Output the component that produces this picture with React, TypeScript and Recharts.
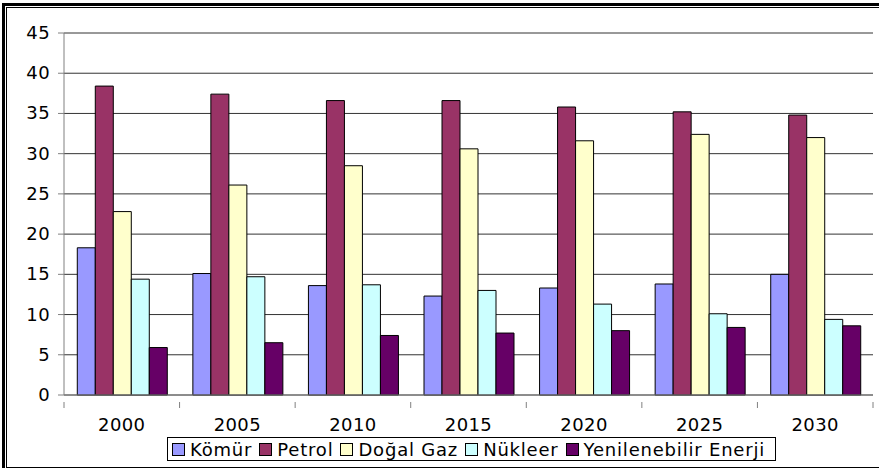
import React from 'react';
import { BarChart, Bar, XAxis, YAxis, CartesianGrid } from 'recharts';

const years = ['2000', '2005', '2010', '2015', '2020', '2025', '2030'];
const komur = [18.3, 15.1, 13.6, 12.3, 13.3, 13.8, 15.0];
const petrol = [38.4, 37.4, 36.6, 36.6, 35.8, 35.2, 34.8];
const dogalGaz = [22.8, 26.1, 28.5, 30.6, 31.6, 32.4, 32.0];
const nukleer = [14.4, 14.7, 13.7, 13.0, 11.3, 10.1, 9.4];
const yenilenebilir = [5.9, 6.5, 7.4, 7.7, 8.0, 8.4, 8.6];
const yTicks = [0, 5, 10, 15, 20, 25, 30, 35, 40, 45];

const seriesNames = ['Kömür', 'Petrol', 'Doğal Gaz', 'Nükleer', 'Yenilenebilir Enerji'];
const seriesColors = ['#9999FF', '#993366', '#FFFFCC', '#CCFFFF', '#660066'];
const seriesValues = [komur, petrol, dogalGaz, nukleer, yenilenebilir];
const keys = ['s0', 's1', 's2', 's3', 's4'];

const data = years.map((y, i) => {
  const row: any = { year: y };
  keys.forEach((k, j) => (row[k] = seriesValues[j][i]));
  return row;
});

const FONT = '"DejaVu Sans", Verdana, sans-serif';
const W = 879;
const H = 469;

const XTick = (props: any) => {
  const { x, y, payload, index } = props;
  const half = payload && payload.offset ? payload.offset : 0;
  return (
    <g>
      <line x1={x - half} x2={x - half} y1={y - 1} y2={y + 5} stroke="#808080" strokeWidth={1} />
      {index === years.length - 1 && (
        <line x1={x + half} x2={x + half} y1={y - 1} y2={y + 5} stroke="#808080" strokeWidth={1} />
      )}
      <text x={x} y={y + 28} textAnchor="middle" fontFamily={FONT} fontSize={18} letterSpacing={0.4} fill="#000">
        {payload.value}
      </text>
    </g>
  );
};

const YTick = (props: any) => {
  const { x, y, payload } = props;
  return (
    <text x={x - 6} y={y + 6} textAnchor="end" fontFamily={FONT} fontSize={18} letterSpacing={0.4} fill="#000">
      {payload.value}
    </text>
  );
};

export default function App() {
  return (
    <div style={{ position: 'absolute', left: 0, top: 0, width: W, height: H, background: '#fff', overflow: 'hidden' }}>
      <div style={{ position: 'absolute', left: 2, top: 3, width: W, height: 465, borderLeft: '3px solid #000', borderTop: '3px solid #000', boxSizing: 'border-box' }} />
      <div style={{ position: 'absolute', left: 6, top: 7, width: W, height: 461, borderLeft: '1px solid #000', borderTop: '1px solid #000', borderBottom: '1px solid #000', boxSizing: 'border-box' }} />
      <div style={{ position: 'absolute', left: 0, top: 0 }}>
        <BarChart
          width={W}
          height={H}
          data={data}
          margin={{ top: 33, right: 6, left: 0, bottom: 0 }}
          barCategoryGap="11.5%"
          barGap={0}
        >
          <CartesianGrid vertical={false} stroke="#333" strokeWidth={1} />
          <XAxis
            dataKey="year"
            height={74}
            axisLine={{ stroke: '#808080' }}
            tickLine={false}
            tick={<XTick />}
            interval={0}
          />
          <YAxis
            domain={[0, 45]}
            ticks={yTicks}
            width={64}
            axisLine={{ stroke: '#808080' }}
            tickLine={{ stroke: '#808080' }}
            tickSize={6}
            tick={<YTick />}
            interval={0}
          />
          {keys.map((k, j) => (
            <Bar
              key={k}
              dataKey={k}
              name={seriesNames[j]}
              fill={seriesColors[j]}
              stroke="#000"
              strokeWidth={1}
              isAnimationActive={false}
            />
          ))}
        </BarChart>
      </div>
      <div
        style={{
          position: 'absolute',
          left: 167,
          top: 437,
          height: 24,
          width: 609,
          border: '1px solid #000',
          boxSizing: 'border-box',
          background: '#fff',
          display: 'flex',
          alignItems: 'center',
          fontFamily: FONT,
          fontSize: 18,
          letterSpacing: 0.8,
          color: '#000',
          whiteSpace: 'nowrap',
          paddingLeft: 4,
        }}
      >
        {seriesNames.map((n, j) => (
          <div key={n} style={{ display: 'flex', alignItems: 'center', marginRight: 7 }}>
            <div style={{ width: 13, height: 13, background: seriesColors[j], border: '1px solid #000', boxSizing: 'border-box', marginRight: 5 }} />
            <span>{n}</span>
          </div>
        ))}
      </div>
    </div>
  );
}
